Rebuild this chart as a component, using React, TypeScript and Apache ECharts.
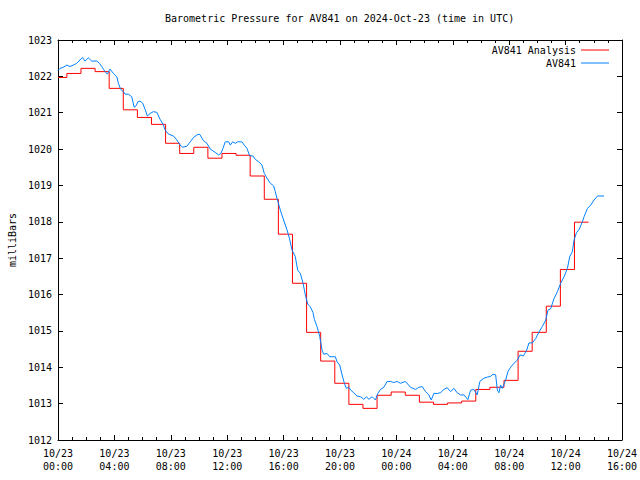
import React, { useEffect, useRef } from "react";
import * as echarts from "echarts";

const FONT = "'DejaVu Sans Mono', 'Liberation Mono', monospace";

const titleText = "Barometric Pressure for AV841 on 2024-Oct-23 (time in UTC)";
const seriesNames = ["AV841 Analysis", "AV841"];

// Hourly analysis values (hours 0..37 from 10/23 00:00 UTC)
const redValues = [
  1021.97, 1022.08, 1022.22, 1022.13, 1021.67, 1021.08, 1020.87, 1020.68,
  1020.16, 1019.88, 1020.05, 1019.75, 1019.88, 1019.83, 1019.26, 1018.62,
  1017.66, 1016.31, 1014.96, 1014.17, 1013.56, 1012.98, 1012.87, 1013.23,
  1013.32, 1013.23, 1013.04, 1012.98, 1013.02, 1013.07, 1013.39, 1013.45,
  1013.64, 1014.44, 1014.96, 1015.68, 1016.69, 1017.99,
];
const redStepOffset = -0.37;
const redEnd = 37.63;

// Observations: hours since 10/23 00:00 UTC and pressure (mb)
const blueHours = [
  0, 0.14, 0.38, 0.62, 0.85, 1.09, 1.33, 1.56, 1.73, 1.92, 2.15, 2.39, 2.75,
  2.94, 3.1, 3.34, 3.5, 3.69, 3.93, 4.17, 4.28, 4.45, 4.64, 4.76, 4.99, 5.23,
  5.4, 5.54, 5.66, 5.82, 6.01, 6.18, 6.34, 6.53, 6.77, 7.01, 7.24, 7.48, 7.6,
  7.84, 8.19, 8.43, 8.66, 8.85, 9.14, 9.38, 9.61, 9.85, 10.04,
  10.32, 10.56, 10.8, 11.15, 11.39, 11.55, 11.7, 11.86, 12.1, 12.22, 12.38,
  12.57, 12.74, 13.04, 13.21, 13.4, 13.59, 13.83, 13.99, 14.23, 14.47, 14.63,
  14.82, 15.06, 15.29, 15.41, 15.53, 15.77, 16.0, 16.24, 16.41, 16.6, 16.83,
  17.0, 17.19, 17.38, 17.54, 17.71, 17.9, 18.09, 18.18,
  18.37, 18.56, 18.73, 18.84, 19.08, 19.27, 19.44, 19.67, 19.79, 19.98, 20.15,
  20.31, 20.45, 20.62, 20.79, 20.98, 21.21, 21.45, 21.69, 21.88, 22.04, 22.28,
  22.51, 22.68, 22.87, 23.11, 23.34, 23.58, 23.82, 24.05, 24.29, 24.64, 25.0,
  25.36, 25.59, 25.83, 26.07, 26.3, 26.47, 26.66, 26.89, 27.13, 27.37, 27.6,
  27.84, 28.08, 28.31, 28.55, 28.79, 29.07, 29.26, 29.5, 29.73, 29.92,
  30.21, 30.45, 30.68, 30.85, 31.04, 31.16, 31.27, 31.39, 31.51, 31.75, 31.91,
  32.1, 32.34, 32.58, 32.77, 33.0, 33.24, 33.4, 33.64, 33.88, 34.11, 34.35,
  34.59, 34.75, 34.94, 35.18, 35.42, 35.65, 35.89, 36.13, 36.29, 36.48, 36.6,
  36.77, 36.96, 37.19, 37.31, 37.55, 37.78, 38.02, 38.26, 38.73,
];
const bluePressure = [
  1022.16, 1022.22, 1022.25, 1022.31, 1022.27, 1022.31, 1022.36, 1022.45,
  1022.52, 1022.42, 1022.51, 1022.42, 1022.42, 1022.36, 1022.27, 1022.13,
  1022.06, 1022.2, 1022.08, 1021.99, 1021.81, 1021.64, 1021.58, 1021.51,
  1021.51, 1021.44, 1021.15, 1021.19, 1021.3, 1021.32, 1021.26, 1021.09,
  1020.91, 1020.98, 1021.03, 1021.01, 1020.82, 1020.66, 1020.52, 1020.41,
  1020.36, 1020.25, 1020.11, 1020.05, 1020.08, 1020.2, 1020.32, 1020.39,
  1020.41,
  1020.23, 1020.16, 1020.0, 1019.91, 1019.84, 1019.88, 1020.02, 1020.2,
  1020.2, 1020.11, 1020.2, 1020.16, 1020.2, 1020.2, 1020.11, 1020.02, 1019.82,
  1019.81, 1019.72, 1019.65, 1019.56, 1019.33, 1019.2, 1019.06, 1018.99,
  1018.83, 1018.65, 1018.32, 1018.05, 1017.78, 1017.55, 1017.22, 1017.04,
  1016.67, 1016.58, 1016.31, 1015.99, 1015.74, 1015.66, 1015.5, 1015.32,
  1015.12, 1014.85, 1014.47, 1014.36, 1014.38, 1014.29, 1014.29, 1014.29,
  1014.15, 1014.06, 1013.79, 1013.56, 1013.42, 1013.45, 1013.36, 1013.3,
  1013.21, 1013.19, 1013.12, 1013.19, 1013.12, 1013.19, 1013.1, 1013.28,
  1013.39, 1013.45, 1013.61, 1013.61, 1013.58, 1013.61, 1013.56, 1013.61,
  1013.45, 1013.39, 1013.45, 1013.47, 1013.33, 1013.24, 1013.1, 1013.28,
  1013.28, 1013.3, 1013.39, 1013.44, 1013.33, 1013.42, 1013.3, 1013.24,
  1013.24, 1013.11, 1013.37, 1013.39, 1013.24, 1013.61,
  1013.7, 1013.73, 1013.75, 1013.81, 1013.79, 1013.37, 1013.3, 1013.51,
  1013.42, 1013.65, 1013.88, 1014.0, 1014.11, 1014.2, 1014.34, 1014.31,
  1014.47, 1014.67, 1014.67, 1014.79, 1014.97, 1015.12, 1015.3, 1015.57,
  1015.61, 1015.89, 1016.08, 1016.31, 1016.49, 1016.72, 1017.04, 1017.18,
  1017.5, 1017.7, 1017.79, 1018.0, 1018.14, 1018.37, 1018.46, 1018.6,
  1018.71, 1018.71,
];

const xMin = 0;
const xMax = 40;
const xInterval = 4;
const yMin = 1012;
const yMax = 1023;
const yInterval = 1;
const startMonth = 10;
const startDay = 23;

function xLabel(v: number): string {
  const day = startDay + Math.floor(v / 24);
  const hh = Math.round(v % 24);
  return `${startMonth}/${day}\n${String(hh).padStart(2, "0")}:00`;
}

export default function App() {
  const ref = useRef<HTMLDivElement>(null);

  useEffect(() => {
    if (!ref.current) return;
    const chart = echarts.init(ref.current, null, { renderer: "svg" });

    const redData: [number, number][] = redValues.map((v, i) => [
      i === 0 ? 0 : i + redStepOffset,
      v,
    ]);
    redData.push([redEnd, redValues[redValues.length - 1]]);
    const blueData: [number, number][] = blueHours.map((h, i) => [
      h,
      bluePressure[i],
    ]);

    const textStyle = { fontFamily: FONT, fontSize: 10, color: "#000" };
    const axisLineStyle = { color: "#000", width: 1 };

    const baseX = {
      type: "value",
      min: xMin,
      max: xMax,
      interval: xInterval,
      axisLine: { show: true, onZero: false, lineStyle: axisLineStyle },
      axisTick: { show: true, inside: true, length: 5, lineStyle: axisLineStyle },
      minorTick: { show: true, splitNumber: 4, length: 3, lineStyle: axisLineStyle },
      splitLine: { show: false },
      minorSplitLine: { show: false },
    };
    const baseY = {
      type: "value",
      min: yMin,
      max: yMax,
      interval: yInterval,
      axisLine: { show: true, onZero: false, lineStyle: axisLineStyle },
      axisTick: { show: true, inside: true, length: 5, lineStyle: axisLineStyle },
      splitLine: { show: false },
    };

    chart.setOption({
      animation: false,
      backgroundColor: "#fff",
      title: {
        text: titleText,
        left: 165,
        top: 13,
        padding: 0,
        textStyle: { ...textStyle, fontWeight: "normal" },
      },
      legend: {
        orient: "vertical",
        right: 31,
        top: 44,
        align: "right",
        icon: "rect",
        itemWidth: 28,
        itemHeight: 1,
        itemGap: 1,
        padding: 0,
        textStyle: { ...textStyle, lineHeight: 12 },
        data: seriesNames,
      },
      grid: {
        left: 58,
        right: 18,
        top: 40,
        bottom: 40,
        containLabel: false,
        outerBoundsMode: "none",
      },
      xAxis: [
        {
          ...baseX,
          position: "bottom",
          axisLabel: {
            ...textStyle,
            margin: 7,
            lineHeight: 13,
            formatter: xLabel,
          },
        },
        {
          ...baseX,
          position: "top",
          axisLabel: { show: false },
        },
      ],
      yAxis: [
        {
          ...baseY,
          position: "left",
          name: "milliBars",
          nameLocation: "middle",
          nameGap: 38,
          nameTextStyle: textStyle,
          axisLabel: {
            ...textStyle,
            margin: 6,
            formatter: (v: number) => String(v),
          },
        },
        {
          ...baseY,
          position: "right",
          axisLabel: { show: false },
        },
      ],
      series: [
        {
          name: seriesNames[0],
          type: "line",
          step: "end",
          data: redData,
          symbol: "none",
          showSymbol: false,
          lineStyle: { color: "#ff0000", width: 1 },
          itemStyle: { color: "#ff0000" },
        },
        {
          name: seriesNames[1],
          type: "line",
          data: blueData,
          symbol: "none",
          showSymbol: false,
          lineStyle: { color: "#0080ff", width: 1 },
          itemStyle: { color: "#0080ff" },
        },
      ],
    });

    return () => chart.dispose();
  }, []);

  return (
    <div
      ref={ref}
      style={{ position: "fixed", left: 0, top: 0, width: 640, height: 480 }}
    />
  );
}
